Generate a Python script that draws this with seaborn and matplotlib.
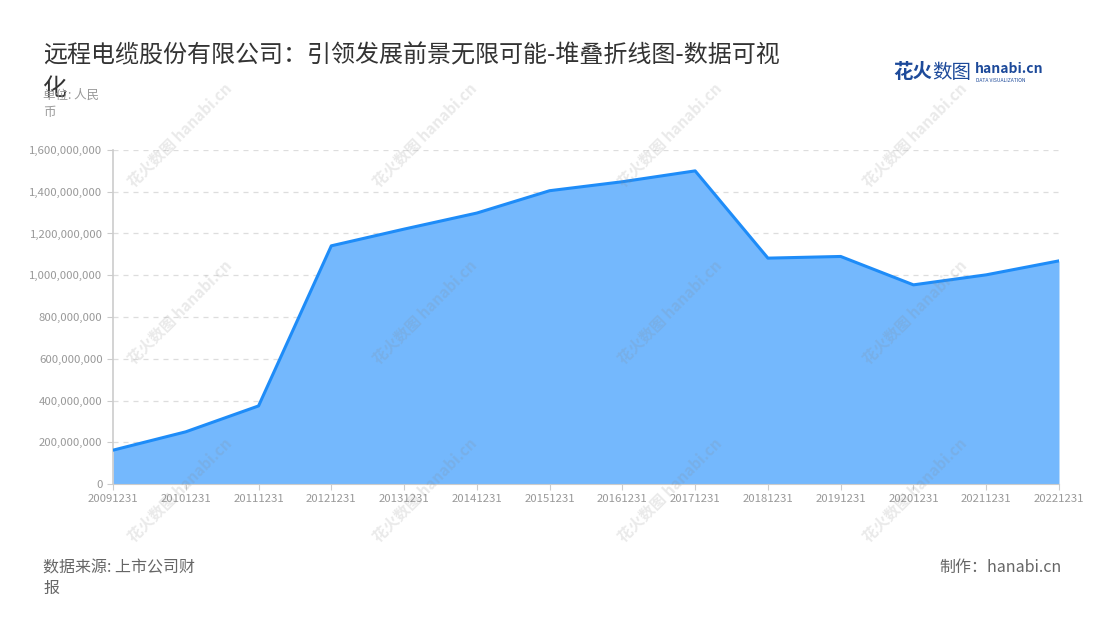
import matplotlib
matplotlib.use("Agg")
import matplotlib.pyplot as plt
import matplotlib.ticker as mticker
import seaborn as sns
import pandas as pd

# 数据
years = ["20091231", "20101231", "20111231", "20121231", "20131231", "20141231", "20151231",
         "20161231", "20171231", "20181231", "20191231", "20201231", "20211231", "20221231"]
values = [162e6, 250e6, 374e6, 1141e6, 1221e6, 1298e6, 1405e6,
          1448e6, 1500e6, 1082e6, 1090e6, 954e6, 1002e6, 1069e6]

df = pd.DataFrame({"date": years, "value": values})
df["pos"] = range(len(df))

sns.set_style("white")
plt.rcParams["font.family"] = ["Noto Sans CJK SC", "DejaVu Sans"]

fig = plt.figure(figsize=(11, 6.2), dpi=100)
ax = fig.add_axes([113 / 1100, 1 - 484 / 620, (1059 - 113) / 1100, (484 - 150) / 620])

ax.fill_between(df["pos"], df["value"], 0, color="#74B8FD", lw=0, zorder=2)
sns.lineplot(data=df, x="pos", y="value", ax=ax, color="#1E8CF8", lw=2.2, zorder=3)

ax.set_xlim(0, len(df) - 1)
ax.set_ylim(0, 1.6e9)
ax.set_xticks(df["pos"])
ax.set_xticklabels(df["date"])
ax.yaxis.set_major_locator(mticker.MultipleLocator(2e8))
ax.yaxis.set_major_formatter(mticker.FuncFormatter(lambda v, p: f"{int(v):,}"))
ax.set_xlabel("")
ax.set_ylabel("")

ax.grid(axis="y", linestyle=(0, (4, 4)), color="#dddddd", lw=0.9, zorder=0)
for s in ["top", "right"]:
    ax.spines[s].set_visible(False)
ax.spines["left"].set_color("#cccccc")
ax.spines["bottom"].set_color("#cccccc")
ax.spines["left"].set_linewidth(1.2)
ax.tick_params(axis="both", colors="#cccccc", labelcolor="#999999", labelsize=8.2,
               length=4, direction="out", bottom=True, left=True)
ax.tick_params(axis="x", pad=3)

# 水印
for wx in [180, 425, 670, 915]:
    for wy in [135, 312, 490]:
        fig.text(wx / 1100, 1 - wy / 620, "花火数图 hanabi.cn", rotation=45, fontsize=11,
                 color="#888888", alpha=0.18, ha="center", va="center",
                 fontweight="bold", zorder=10)

fig.text(43 / 1100, 1 - 55 / 620, "远程电缆股份有限公司：引领发展前景无限可能-堆叠折线图-数据可视",
         fontsize=17.3, color="#333333", ha="left", va="center")
fig.text(43 / 1100, 1 - 88 / 620, "化", fontsize=17.3, color="#333333", ha="left", va="center")
fig.text(43 / 1100, 1 - 104 / 620, "单位: 人民\n币", fontsize=9, color="#999999",
         ha="left", va="center", linespacing=1.4)

# 标志
fig.text(893 / 1100, 1 - 72 / 620, "花火", fontsize=14, fontweight="bold",
         color="#1D4A9A", ha="left", va="center")
fig.text(932 / 1100, 1 - 72 / 620, "数图", fontsize=14,
         color="#1D4A9A", ha="left", va="center")
fig.text(975 / 1100, 1 - 69 / 620, "hanabi.cn", fontsize=10, fontweight="bold",
         color="#1D4A9A", ha="left", va="center")
fig.text(976 / 1100, 1 - 80 / 620, "DATA VISUALIZATION", fontsize=3.6,
         color="#1D4A9A", ha="left", va="center")

fig.text(43 / 1100, 1 - 578 / 620, "数据来源: 上市公司财\n报", fontsize=11.5, color="#666666",
         ha="left", va="center", linespacing=1.3)
fig.text(1062 / 1100, 1 - 567 / 620, "制作：hanabi.cn", fontsize=11.5, color="#666666",
         ha="right", va="center")

fig.savefig("out.png", dpi=100)
